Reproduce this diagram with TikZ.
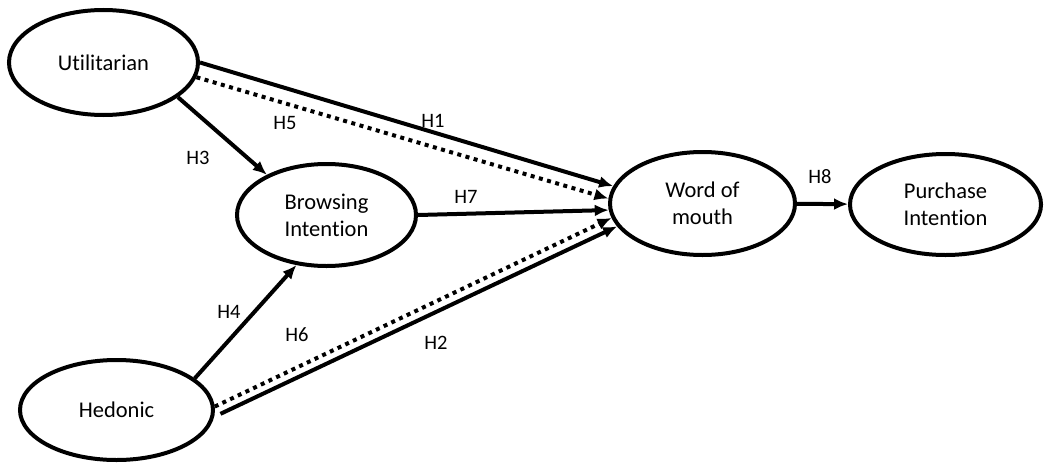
\documentclass[tikz,border=0pt]{standalone}
\usepackage{fontspec}
\setmainfont{Carlito}[Ligatures=NoCommon]
\usetikzlibrary{shapes.geometric,arrows.meta}

\tikzset{
  construct/.style={ellipse, draw, line width=4pt, inner sep=0pt, align=center,
    font=\fontsize{22.5}{27}\selectfont},
  hyp/.style={inner sep=0pt, font=\fontsize{20.5}{24}\selectfont},
  link/.style={line width=4pt, -{Latex[length=14pt,width=12pt]}},
  dotlink/.style={link, line width=4pt, dash pattern=on 4pt off 4.5pt}
}

\begin{document}
\begin{tikzpicture}[x=1pt,y=-1pt]
\useasboundingbox (0,0) rectangle (1046,463);

\node[construct, minimum width=189pt, minimum height=105pt] (util) at (103.5,62.5) {Utilitarian};
\node[construct, minimum width=179pt, minimum height=102pt] (brow) at (326.5,215) {Browsing\\Intention};
\node[construct, minimum width=193pt, minimum height=100pt] (hed) at (116.5,410) {Hedonic};
\node[construct, minimum width=185pt, minimum height=103pt] (wom) at (702.5,203.5) {Word of\\mouth};
\node[construct, minimum width=191pt, minimum height=101pt] (pur) at (945.5,204.5) {Purchase\\Intention};

\draw[link] (util.0) -- (wom.169);
\draw[dotlink] (util.-9) -- (wom.177);
\draw[link] (util.-25) -- (brow.146);
\draw[link] (brow.0) -- (wom.184);
\draw[link] (hed.22) -- (brow.239);
\draw[dotlink] (hed.2) -- (wom.189);
\draw[link, shorten <=7pt] (hed.-4) -- (wom.195);
\draw[link] (wom) -- (pur);

\node[hyp] (h1) at (433,121) {H1};
\node[hyp] (h2) at (436,343) {H2};
\node[hyp] (h3) at (198,158) {H3};
\node[hyp] (h4) at (229,312) {H4};
\node[hyp] (h5) at (285,123) {H5};
\node[hyp] (h6) at (297,335) {H6};
\node[hyp] (h7) at (466,197) {H7};
\node[hyp] (h8) at (820,177) {H8};
\end{tikzpicture}
\end{document}
